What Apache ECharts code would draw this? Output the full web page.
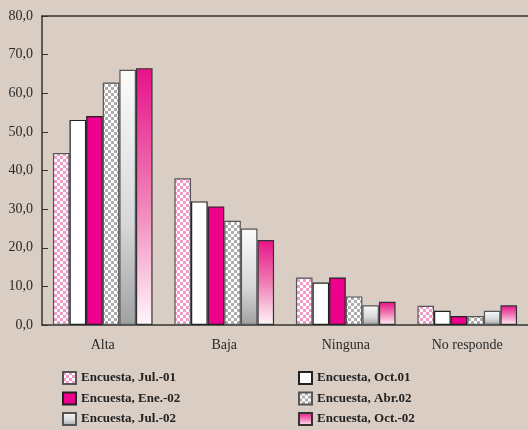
<!DOCTYPE html>
<html>
<head>
<meta charset="utf-8">
<script src="https://cdn.jsdelivr.net/npm/echarts@6/dist/echarts.min.js"></script>
<style>
html,body{margin:0;padding:0;background:#d9cdc4;}
#c{width:528px;height:430px;}
</style>
</head>
<body>
<div id="c"></div>
<script>
var categories = ['Alta', 'Baja', 'Ninguna', 'No responde'];
var seriesNames = ['Encuesta, Jul.-01', 'Encuesta, Oct.01', 'Encuesta, Ene.-02', 'Encuesta, Abr.02', 'Encuesta, Jul.-02', 'Encuesta, Oct.-02'];
var jul01 = [44.5, 38.0, 12.3, 5.0];
var oct01 = [53.1, 32.0, 11.0, 3.7];
var ene02 = [54.1, 30.7, 12.3, 2.3];
var abr02 = [62.8, 27.0, 7.4, 2.3];
var jul02 = [66.1, 25.0, 5.1, 3.7];
var oct02 = [66.5, 22.0, 6.0, 5.1];
var yMin = 0, yMax = 80, yStep = 10;

function checker(c1, c2, s) {
  var cv = document.createElement('canvas');
  cv.width = s * 2; cv.height = s * 2;
  var ctx = cv.getContext('2d');
  ctx.fillStyle = c2; ctx.fillRect(0, 0, s * 2, s * 2);
  ctx.fillStyle = c1;
  ctx.fillRect(0, 0, s, s);
  ctx.fillRect(s, s, s, s);
  return cv;
}
var pinkCheck = { image: checker('#f39bc8', '#ffffff', 3), repeat: 'repeat' };
var grayCheck = { image: checker('#aeaeae', '#ffffff', 3), repeat: 'repeat' };
var grayGrad = { type: 'linear', x: 0, y: 0, x2: 0, y2: 1, colorStops: [{ offset: 0, color: '#fbfbfb' }, { offset: 0.6, color: '#d6d8da' }, { offset: 1, color: '#9fa1a3' }] };
var pinkGrad = { type: 'linear', x: 0, y: 0, x2: 0, y2: 1, colorStops: [{ offset: 0, color: '#e8128a' }, { offset: 0.5, color: '#f07cb4' }, { offset: 1, color: '#fff6fa' }] };

var fills = [pinkCheck, '#ffffff', '#ec008c', grayCheck, grayGrad, pinkGrad];
var borders = ['#555555', '#222222', '#222222', '#555555', '#555555', '#333333'];
var values = [jul01, oct01, ene02, abr02, jul02, oct02];

var series = seriesNames.map(function (n, i) {
  return {
    name: n, type: 'bar', data: values[i],
    barGap: '0%', barCategoryGap: '18%',
    itemStyle: { color: fills[i], borderColor: borders[i], borderWidth: 1.2 },
    emphasis: { disabled: true }
  };
});

var font = '"Liberation Serif", "Times New Roman", serif';
var legendText = { fontFamily: font, fontWeight: 'bold', fontSize: 13, color: '#222', lineHeight: 14 };
var chart = echarts.init(document.getElementById('c'));
chart.setOption({
  backgroundColor: '#d9cdc4',
  animation: false,
  textStyle: { fontFamily: font },
  grid: { left: 42, top: 16, width: 489, height: 309 },
  legend: [
    { orient: 'vertical', left: 62, top: 371, height: 90, padding: 0, icon: 'rect',
      itemWidth: 13, itemHeight: 12, itemGap: 6.5,
      data: [seriesNames[0], seriesNames[2], seriesNames[4]], textStyle: legendText },
    { orient: 'vertical', left: 298, top: 371, height: 90, padding: 0, icon: 'rect',
      itemWidth: 13, itemHeight: 12, itemGap: 6.5,
      data: [seriesNames[1], seriesNames[3], seriesNames[5]], textStyle: legendText }
  ],
  xAxis: [
    { type: 'category', data: categories,
      axisLine: { lineStyle: { color: '#333', width: 1.5 } },
      axisTick: { inside: true, length: 5, lineStyle: { color: '#333' } },
      axisLabel: { margin: 13, fontFamily: font, fontSize: 14, color: '#2a2a2a' } },
    { type: 'category', data: categories, position: 'top',
      axisLine: { lineStyle: { color: '#333', width: 1.5 } },
      axisTick: { show: false }, axisLabel: { show: false } }
  ],
  yAxis: {
    type: 'value', min: yMin, max: yMax, interval: yStep,
    axisLine: { show: true, lineStyle: { color: '#333', width: 1.5 } },
    axisTick: { show: true, inside: true, length: 6, lineStyle: { color: '#333' } },
    splitLine: { show: false },
    axisLabel: { margin: 9, fontFamily: font, fontSize: 14, color: '#2a2a2a',
      formatter: function (v) { return v.toFixed(1).replace('.', ','); } }
  },
  series: series
});
</script>
</body>
</html>
